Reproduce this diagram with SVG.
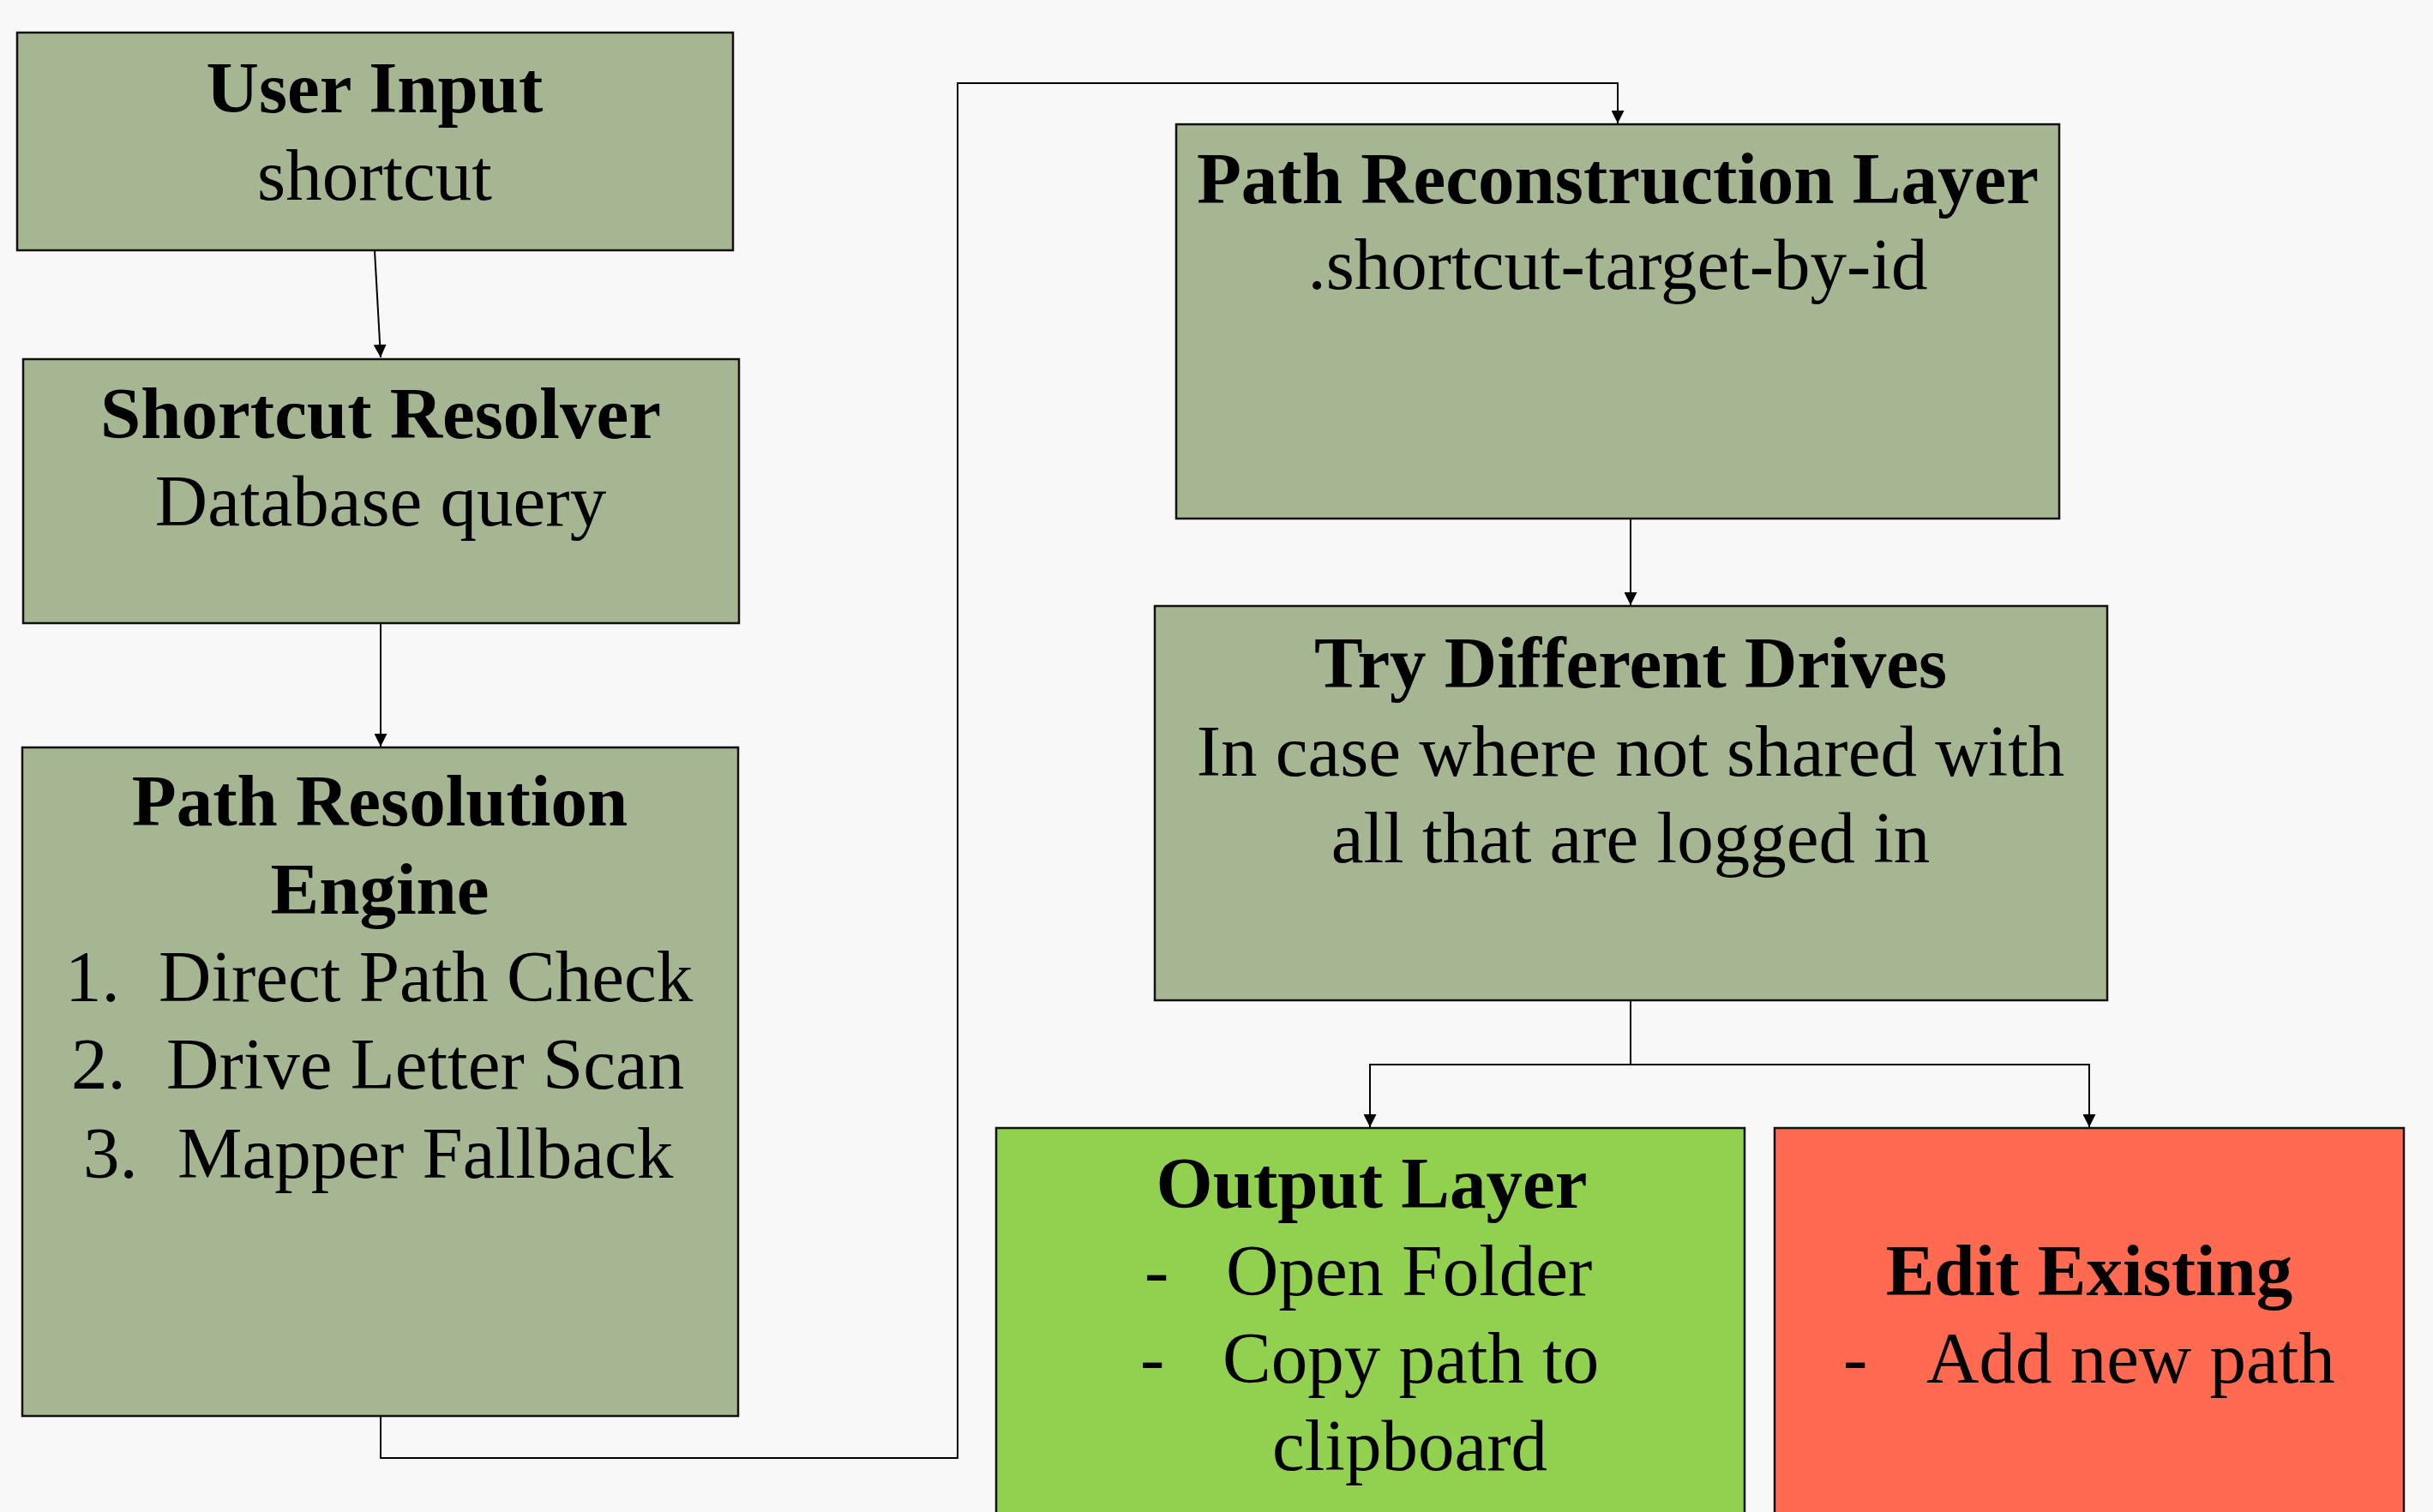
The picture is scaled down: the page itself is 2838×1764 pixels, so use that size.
<svg xmlns="http://www.w3.org/2000/svg" width="2838" height="1764" viewBox="0 0 2838 1764">
  <style>
    .box { stroke: #111; stroke-width: 2.5; }
    .sage { fill: #A6B592; }
    .lime { fill: #92D050; }
    .coral { fill: #FF6A50; }
    text { font-family: "Liberation Serif", "Times New Roman", serif; font-size: 85px; fill: #000; }
    .t { font-weight: bold; }
    .c { text-anchor: middle; }
    .wire { fill: none; stroke: #000; stroke-width: 2; }
  </style>
  <defs>
    <marker id="arrow" viewBox="0 0 15 15" refX="15" refY="7.5" markerWidth="15" markerHeight="15" markerUnits="userSpaceOnUse" orient="auto">
      <path d="M0,0 L15,7.5 L0,15 z" fill="#000"/>
    </marker>
  </defs>

  <rect width="2838" height="1764" fill="#F8F8F8"/>

  <!-- connectors -->
  <g id="connectors">
    <path class="wire" d="M437,292 L444,417" marker-end="url(#arrow)"/>
    <path class="wire" d="M444,727 L444,871" marker-end="url(#arrow)"/>
    <path class="wire" d="M444,1652 L444,1701 L1117,1701 L1117,97 L1887,97 L1887,144" marker-end="url(#arrow)"/>
    <path class="wire" d="M1902,605 L1902,706" marker-end="url(#arrow)"/>
    <path class="wire" d="M1902,1167 L1902,1242"/>
    <path class="wire" d="M1902,1242 L1598,1242 L1598,1315" marker-end="url(#arrow)"/>
    <path class="wire" d="M1902,1242 L2437,1242 L2437,1315" marker-end="url(#arrow)"/>
  </g>

  <g id="user-input">
    <rect class="box sage" x="20" y="38" width="835" height="254"/>
    <text class="t c" x="437" y="131">User Input</text>
    <text class="c" x="437" y="233">shortcut</text>
  </g>

  <g id="shortcut-resolver">
    <rect class="box sage" x="27" y="419" width="835" height="308"/>
    <text class="t c" x="444" y="511">Shortcut Resolver</text>
    <text class="c" x="444" y="613">Database query</text>
  </g>

  <g id="path-resolution-engine">
    <rect class="box sage" x="26" y="872" width="835" height="780"/>
    <text class="t c" x="443" y="963">Path Resolution</text>
    <text class="t c" x="443" y="1066">Engine</text>
    <text x="76" y="1168">1.</text>
    <text x="185" y="1168">Direct Path Check</text>
    <text x="83" y="1270">2.</text>
    <text x="194" y="1270">Drive Letter Scan</text>
    <text x="97" y="1374">3.</text>
    <text x="207" y="1374">Mapper Fallback</text>
  </g>

  <g id="path-reconstruction-layer">
    <rect class="box sage" x="1372" y="145" width="1030" height="460"/>
    <text class="t c" x="1887" y="237">Path Reconstruction Layer</text>
    <text class="c" x="1887" y="337">.shortcut-target-by-id</text>
  </g>

  <g id="try-different-drives">
    <rect class="box sage" x="1347" y="707" width="1111" height="460"/>
    <text class="t c" x="1902" y="802">Try Different Drives</text>
    <text class="c" x="1902" y="905">In case where not shared with</text>
    <text class="c" x="1902" y="1006">all that are logged in</text>
  </g>

  <g id="output-layer">
    <rect class="box lime" x="1162" y="1316" width="873" height="470"/>
    <text class="t c" x="1600" y="1409">Output Layer</text>
    <text x="1335" y="1511">-</text>
    <text x="1430" y="1511">Open Folder</text>
    <text x="1330" y="1613">-</text>
    <text x="1426" y="1613">Copy path to</text>
    <text x="1484" y="1715">clipboard</text>
  </g>

  <g id="edit-existing">
    <rect class="box coral" x="2070" y="1316" width="734" height="470"/>
    <text class="t c" x="2437" y="1511">Edit Existing</text>
    <text x="2150" y="1613">-</text>
    <text x="2247" y="1613">Add new path</text>
  </g>
</svg>
